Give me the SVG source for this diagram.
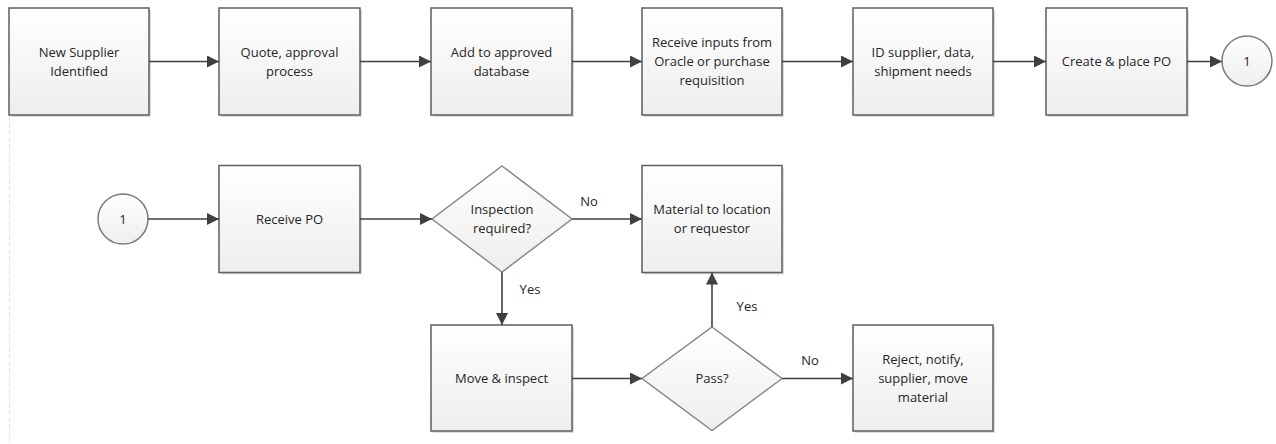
<svg xmlns="http://www.w3.org/2000/svg" width="1276" height="444" viewBox="0 0 1276 444">
<defs>
<linearGradient id="g" x1="0" y1="0" x2="0" y2="1">
<stop offset="0" stop-color="#ffffff"/>
<stop offset="1" stop-color="#eeeeee"/>
</linearGradient>
<marker id="ah" markerUnits="userSpaceOnUse" markerWidth="13" markerHeight="12" refX="12" refY="6" orient="auto">
<path d="M0,0 L12,6 L0,12 z" fill="#404040"/>
</marker>
</defs>
<style>
.box{fill:url(#g);stroke:#5e5e5e;stroke-width:1.5}
.dia{fill:url(#g);stroke:#8a8a8a;stroke-width:1.5}
.cir{fill:url(#g);stroke:#7a7a7a;stroke-width:1.5}
.sh{fill:#dcdcdc}
.t{font-family:"Open Sans","Noto Sans",sans-serif;font-size:13px;fill:#262626;text-anchor:middle}
.c{fill:none;stroke:#404040;stroke-width:1.6;marker-end:url(#ah)}
</style>
<rect width="1276" height="444" fill="#ffffff"/>
<line x1="9.5" y1="116" x2="9.5" y2="444" stroke="#e6e6e6" stroke-width="1" stroke-dasharray="5,2"/>

<g id="n1"><rect class="sh" x="11" y="10" width="140" height="107"/><rect class="box" x="9" y="8" width="140" height="107"/><text class="t" x="79" y="57">New Supplier</text><text class="t" x="79" y="76">Identified</text></g>
<g id="n2"><rect class="sh" x="221" y="10" width="141" height="107"/><rect class="box" x="219" y="8" width="141" height="107"/><text class="t" x="289.5" y="57">Quote, approval</text><text class="t" x="289.5" y="76">process</text></g>
<g id="n3"><rect class="sh" x="433" y="10" width="141" height="107"/><rect class="box" x="431" y="8" width="141" height="107"/><text class="t" x="501.5" y="57">Add to approved</text><text class="t" x="501.5" y="76">database</text></g>
<g id="n4"><rect class="sh" x="644" y="10" width="140" height="107"/><rect class="box" x="642" y="8" width="140" height="107"/><text class="t" x="712" y="47">Receive inputs from</text><text class="t" x="712" y="66">Oracle or purchase</text><text class="t" x="712" y="85">requisition</text></g>
<g id="n5"><rect class="sh" x="855" y="10" width="140" height="107"/><rect class="box" x="853" y="8" width="140" height="107"/><text class="t" x="923" y="57">ID supplier, data,</text><text class="t" x="923" y="76">shipment needs</text></g>
<g id="n6"><rect class="sh" x="1048" y="10" width="141" height="107"/><rect class="box" x="1046" y="8" width="141" height="107"/><text class="t" x="1116.5" y="66">Create &amp; place PO</text></g>
<g id="c1"><circle class="cir" cx="1247" cy="61" r="25"/><text class="t" x="1247" y="66">1</text></g>

<g id="c2"><circle class="cir" cx="123" cy="219" r="25"/><text class="t" x="123" y="224">1</text></g>
<g id="n7"><rect class="sh" x="221" y="167.5" width="141" height="107"/><rect class="box" x="219" y="165.5" width="141" height="107"/><text class="t" x="289.5" y="224">Receive PO</text></g>
<g id="d1"><polygon class="dia" points="502,166 572,219 502,272 432,219"/><text class="t" x="502" y="214">Inspection</text><text class="t" x="502" y="233">required?</text></g>
<g id="n8"><rect class="sh" x="644" y="167.5" width="140" height="107"/><rect class="box" x="642" y="165.5" width="140" height="107"/><text class="t" x="712" y="214">Material to location</text><text class="t" x="712" y="233">or requestor</text></g>

<g id="n9"><rect class="sh" x="433" y="327" width="141" height="106"/><rect class="box" x="431" y="325" width="141" height="106"/><text class="t" x="501.5" y="383">Move &amp; inspect</text></g>
<g id="d2"><polygon class="dia" points="712,327 782,378.5 712,430.5 642,378.5"/><text class="t" x="712" y="383">Pass?</text></g>
<g id="n10"><rect class="sh" x="855" y="327" width="140" height="106"/><rect class="box" x="853" y="325" width="140" height="106"/><text class="t" x="923" y="364">Reject, notify,</text><text class="t" x="923" y="383">supplier, move</text><text class="t" x="923" y="402">material</text></g>

<g id="connectors">
<line class="c" x1="149" y1="61.5" x2="219" y2="61.5"/>
<line class="c" x1="360" y1="61.5" x2="431" y2="61.5"/>
<line class="c" x1="572" y1="61.5" x2="642" y2="61.5"/>
<line class="c" x1="782" y1="61.5" x2="853" y2="61.5"/>
<line class="c" x1="993" y1="61.5" x2="1046" y2="61.5"/>
<line class="c" x1="1187" y1="61.5" x2="1222" y2="61.5"/>
<line class="c" x1="148" y1="219" x2="219" y2="219"/>
<line class="c" x1="360" y1="219" x2="432" y2="219"/>
<line class="c" x1="572" y1="219" x2="642" y2="219"/>
<line class="c" x1="502" y1="272" x2="502" y2="325"/>
<line class="c" x1="572" y1="378.5" x2="642" y2="378.5"/>
<line class="c" x1="712" y1="327" x2="712" y2="272.5"/>
<line class="c" x1="782" y1="378.5" x2="853" y2="378.5"/>
<text class="t" x="589" y="206">No</text>
<text class="t" x="530" y="294">Yes</text>
<text class="t" x="747" y="311">Yes</text>
<text class="t" x="810" y="365">No</text>
</g>
</svg>
